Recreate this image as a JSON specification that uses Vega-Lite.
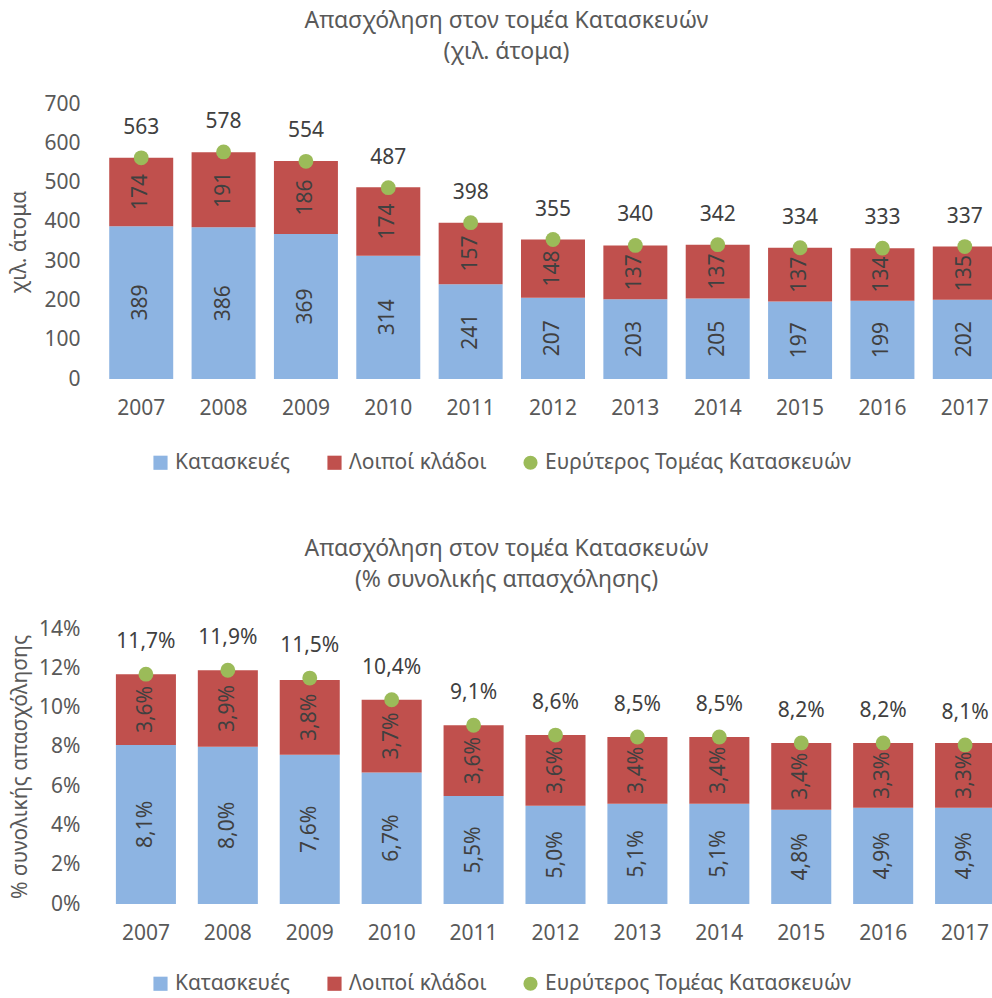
{
  "$schema": "https://vega.github.io/schema/vega-lite/v6.json",
  "background": "white",
  "padding": {"left": 8, "top": 10, "right": 0, "bottom": 0},
  "config": {
    "locale": {"number": {"decimal": ",", "thousands": ".", "grouping": [3], "currency": ["", " €"]}},
    "font": "Noto Sans",
    "view": {"stroke": null},
    "title": {"fontSize": 23, "fontWeight": "normal", "color": "#595959", "lineHeight": 31, "anchor": "middle", "dx": -40, "offset": 29},
    "axis": {"labelFontSize": 21, "labelColor": "#595959", "titleFontSize": 21, "titleFontWeight": "normal", "titleColor": "#595959", "ticks": false, "grid": false, "labelOverlap": false},
    "legend": {"labelFontSize": 21, "labelColor": "#595959", "labelLimit": 500, "symbolSize": 200, "symbolStrokeWidth": 0, "symbolOpacity": 1, "labelOffset": 4, "columnPadding": 33}
  },
  "datasets": {
    "abs": [
      {"year": "2007", "series": "Κατασκευές", "value": 389},
      {"year": "2008", "series": "Κατασκευές", "value": 386},
      {"year": "2009", "series": "Κατασκευές", "value": 369},
      {"year": "2010", "series": "Κατασκευές", "value": 314},
      {"year": "2011", "series": "Κατασκευές", "value": 241},
      {"year": "2012", "series": "Κατασκευές", "value": 207},
      {"year": "2013", "series": "Κατασκευές", "value": 203},
      {"year": "2014", "series": "Κατασκευές", "value": 205},
      {"year": "2015", "series": "Κατασκευές", "value": 197},
      {"year": "2016", "series": "Κατασκευές", "value": 199},
      {"year": "2017", "series": "Κατασκευές", "value": 202},
      {"year": "2007", "series": "Λοιποί κλάδοι", "value": 174},
      {"year": "2008", "series": "Λοιποί κλάδοι", "value": 191},
      {"year": "2009", "series": "Λοιποί κλάδοι", "value": 186},
      {"year": "2010", "series": "Λοιποί κλάδοι", "value": 174},
      {"year": "2011", "series": "Λοιποί κλάδοι", "value": 157},
      {"year": "2012", "series": "Λοιποί κλάδοι", "value": 148},
      {"year": "2013", "series": "Λοιποί κλάδοι", "value": 137},
      {"year": "2014", "series": "Λοιποί κλάδοι", "value": 137},
      {"year": "2015", "series": "Λοιποί κλάδοι", "value": 137},
      {"year": "2016", "series": "Λοιποί κλάδοι", "value": 134},
      {"year": "2017", "series": "Λοιποί κλάδοι", "value": 135},
      {"year": "2007", "series": "Ευρύτερος Τομέας Κατασκευών", "value": 563},
      {"year": "2008", "series": "Ευρύτερος Τομέας Κατασκευών", "value": 578},
      {"year": "2009", "series": "Ευρύτερος Τομέας Κατασκευών", "value": 554},
      {"year": "2010", "series": "Ευρύτερος Τομέας Κατασκευών", "value": 487},
      {"year": "2011", "series": "Ευρύτερος Τομέας Κατασκευών", "value": 398},
      {"year": "2012", "series": "Ευρύτερος Τομέας Κατασκευών", "value": 355},
      {"year": "2013", "series": "Ευρύτερος Τομέας Κατασκευών", "value": 340},
      {"year": "2014", "series": "Ευρύτερος Τομέας Κατασκευών", "value": 342},
      {"year": "2015", "series": "Ευρύτερος Τομέας Κατασκευών", "value": 334},
      {"year": "2016", "series": "Ευρύτερος Τομέας Κατασκευών", "value": 333},
      {"year": "2017", "series": "Ευρύτερος Τομέας Κατασκευών", "value": 337}
    ],
    "pct": [
      {"year": "2007", "series": "Κατασκευές", "value": 0.081},
      {"year": "2008", "series": "Κατασκευές", "value": 0.080},
      {"year": "2009", "series": "Κατασκευές", "value": 0.076},
      {"year": "2010", "series": "Κατασκευές", "value": 0.067},
      {"year": "2011", "series": "Κατασκευές", "value": 0.055},
      {"year": "2012", "series": "Κατασκευές", "value": 0.050},
      {"year": "2013", "series": "Κατασκευές", "value": 0.051},
      {"year": "2014", "series": "Κατασκευές", "value": 0.051},
      {"year": "2015", "series": "Κατασκευές", "value": 0.048},
      {"year": "2016", "series": "Κατασκευές", "value": 0.049},
      {"year": "2017", "series": "Κατασκευές", "value": 0.049},
      {"year": "2007", "series": "Λοιποί κλάδοι", "value": 0.036},
      {"year": "2008", "series": "Λοιποί κλάδοι", "value": 0.039},
      {"year": "2009", "series": "Λοιποί κλάδοι", "value": 0.038},
      {"year": "2010", "series": "Λοιποί κλάδοι", "value": 0.037},
      {"year": "2011", "series": "Λοιποί κλάδοι", "value": 0.036},
      {"year": "2012", "series": "Λοιποί κλάδοι", "value": 0.036},
      {"year": "2013", "series": "Λοιποί κλάδοι", "value": 0.034},
      {"year": "2014", "series": "Λοιποί κλάδοι", "value": 0.034},
      {"year": "2015", "series": "Λοιποί κλάδοι", "value": 0.034},
      {"year": "2016", "series": "Λοιποί κλάδοι", "value": 0.033},
      {"year": "2017", "series": "Λοιποί κλάδοι", "value": 0.033},
      {"year": "2007", "series": "Ευρύτερος Τομέας Κατασκευών", "value": 0.117},
      {"year": "2008", "series": "Ευρύτερος Τομέας Κατασκευών", "value": 0.119},
      {"year": "2009", "series": "Ευρύτερος Τομέας Κατασκευών", "value": 0.115},
      {"year": "2010", "series": "Ευρύτερος Τομέας Κατασκευών", "value": 0.104},
      {"year": "2011", "series": "Ευρύτερος Τομέας Κατασκευών", "value": 0.091},
      {"year": "2012", "series": "Ευρύτερος Τομέας Κατασκευών", "value": 0.086},
      {"year": "2013", "series": "Ευρύτερος Τομέας Κατασκευών", "value": 0.085},
      {"year": "2014", "series": "Ευρύτερος Τομέας Κατασκευών", "value": 0.085},
      {"year": "2015", "series": "Ευρύτερος Τομέας Κατασκευών", "value": 0.082},
      {"year": "2016", "series": "Ευρύτερος Τομέας Κατασκευών", "value": 0.082},
      {"year": "2017", "series": "Ευρύτερος Τομέας Κατασκευών", "value": 0.081}
    ]
  },
  "vconcat": [
    {
      "title": {"text": ["Απασχόληση στον τομέα Κατασκευών", "(χιλ. άτομα)"]},
      "width": 893,
      "height": 275,
      "data": {"name": "abs"},
      "encoding": {
        "x": {"field": "year", "type": "ordinal", "scale": {"range": [0, 906], "paddingInner": 0.223, "paddingOuter": 0.112},
          "axis": {"title": null, "labelAngle": 0, "domain": false, "labelPadding": 18}},
        "y": {"field": "value", "type": "quantitative", "scale": {"domain": [0, 700], "nice": false},
          "axis": {"title": "χιλ. άτομα", "values": [0, 100, 200, 300, 400, 500, 600, 700], "domain": false, "labelPadding": 20, "titlePadding": 14}}
      },
      "layer": [
        {
          "transform": [{"filter": "datum.series !== 'Ευρύτερος Τομέας Κατασκευών'"}],
          "mark": {"type": "bar", "clip": true},
          "encoding": {
            "y": {"field": "value", "type": "quantitative", "stack": "zero"},
            "order": {"field": "series", "type": "nominal", "sort": "ascending"},
            "color": {"field": "series", "type": "nominal",
              "scale": {"domain": ["Κατασκευές", "Λοιποί κλάδοι", "Ευρύτερος Τομέας Κατασκευών"], "range": ["#8db4e2", "#c0504d", "#9bbb59"]},
              "legend": {"title": null, "orient": "none", "direction": "horizontal", "legendX": 50, "legendY": 348}}
          }
        },
        {
          "mark": {"type": "rule", "color": "#d9d9d9", "strokeWidth": 2},
          "encoding": {"y": {"datum": 0}}
        },
        {
          "transform": [{"filter": "datum.series !== 'Ευρύτερος Τομέας Κατασκευών'"}],
          "mark": {"type": "text", "angle": 270, "align": "center", "baseline": "middle", "fontSize": 21, "color": "#404040", "clip": true},
          "encoding": {
            "y": {"field": "value", "type": "quantitative", "stack": "zero", "bandPosition": 0.5},
            "order": {"field": "series", "type": "nominal", "sort": "ascending"},
            "text": {"field": "value", "type": "quantitative", "format": "d"}
          }
        },
        {
          "transform": [{"filter": "datum.series === 'Ευρύτερος Τομέας Κατασκευών'"}],
          "mark": {"type": "point", "filled": true, "opacity": 1, "size": 220, "clip": true},
          "encoding": {
            "color": {"field": "series", "type": "nominal"},
            "shape": {"field": "series", "type": "nominal",
              "scale": {"domain": ["Κατασκευές", "Λοιποί κλάδοι", "Ευρύτερος Τομέας Κατασκευών"], "range": ["square", "square", "circle"]}}
          }
        },
        {
          "transform": [{"filter": "datum.series === 'Ευρύτερος Τομέας Κατασκευών'"}],
          "mark": {"type": "text", "dy": -30, "fontSize": 21, "color": "#404040"},
          "encoding": {
            "text": {"field": "value", "type": "quantitative", "format": "d"}
          }
        }
      ]
    },
    {
      "title": {"text": ["Απασχόληση στον τομέα Κατασκευών", "(% συνολικής απασχόλησης)"], "offset": 26},
      "width": 893,
      "height": 275,
      "data": {"name": "pct"},
      "encoding": {
        "x": {"field": "year", "type": "ordinal", "scale": {"range": [5, 906], "paddingInner": 0.267, "paddingOuter": 0.133},
          "axis": {"title": null, "labelAngle": 0, "domain": false, "labelPadding": 18}},
        "y": {"field": "value", "type": "quantitative", "scale": {"domain": [0, 0.14], "nice": false},
          "axis": {"title": "% συνολικής απασχόλησης", "values": [0, 0.02, 0.04, 0.06, 0.08, 0.1, 0.12, 0.14], "format": ".0%", "domain": false, "labelPadding": 20, "titlePadding": 8}}
      },
      "layer": [
        {
          "transform": [{"filter": "datum.series !== 'Ευρύτερος Τομέας Κατασκευών'"}],
          "mark": {"type": "bar", "clip": true},
          "encoding": {
            "y": {"field": "value", "type": "quantitative", "stack": "zero"},
            "order": {"field": "series", "type": "nominal", "sort": "ascending"},
            "color": {"field": "series", "type": "nominal",
              "scale": {"domain": ["Κατασκευές", "Λοιποί κλάδοι", "Ευρύτερος Τομέας Κατασκευών"], "range": ["#8db4e2", "#c0504d", "#9bbb59"]},
              "legend": {"title": null, "orient": "none", "direction": "horizontal", "legendX": 50, "legendY": 344}}
          }
        },
        {
          "mark": {"type": "rule", "color": "#d9d9d9", "strokeWidth": 2},
          "encoding": {"y": {"datum": 0}}
        },
        {
          "transform": [{"filter": "datum.series !== 'Ευρύτερος Τομέας Κατασκευών'"}],
          "mark": {"type": "text", "angle": 270, "align": "center", "baseline": "middle", "fontSize": 21, "color": "#404040", "clip": true},
          "encoding": {
            "y": {"field": "value", "type": "quantitative", "stack": "zero", "bandPosition": 0.5},
            "order": {"field": "series", "type": "nominal", "sort": "ascending"},
            "text": {"field": "value", "type": "quantitative", "format": ".1%"}
          }
        },
        {
          "transform": [{"filter": "datum.series === 'Ευρύτερος Τομέας Κατασκευών'"}],
          "mark": {"type": "point", "filled": true, "opacity": 1, "size": 220, "clip": true},
          "encoding": {
            "color": {"field": "series", "type": "nominal"},
            "shape": {"field": "series", "type": "nominal",
              "scale": {"domain": ["Κατασκευές", "Λοιποί κλάδοι", "Ευρύτερος Τομέας Κατασκευών"], "range": ["square", "square", "circle"]}}
          }
        },
        {
          "transform": [{"filter": "datum.series === 'Ευρύτερος Τομέας Κατασκευών'"}],
          "mark": {"type": "text", "dy": -32, "fontSize": 21, "color": "#404040"},
          "encoding": {
            "text": {"field": "value", "type": "quantitative", "format": ".1%"}
          }
        }
      ]
    }
  ],
  "spacing": 65,
  "resolve": {
    "scale": {"color": "independent", "shape": "independent", "y": "independent", "x": "independent"},
    "legend": {"color": "independent", "shape": "independent"}
  }
}
